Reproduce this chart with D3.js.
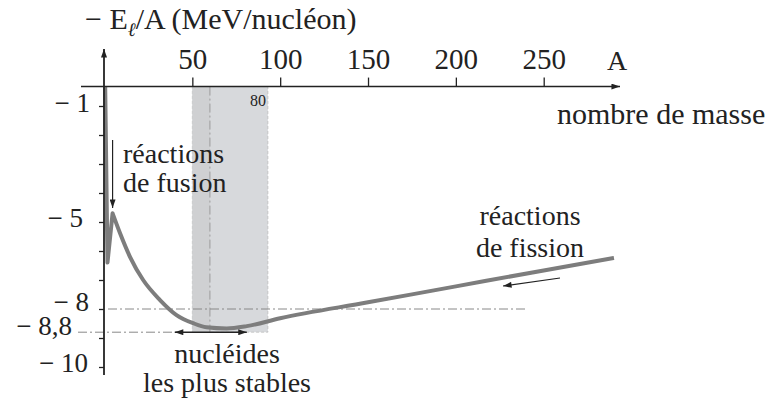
<!DOCTYPE html>
<html>
<head>
<meta charset="utf-8">
<script src="https://cdn.jsdelivr.net/npm/d3@7"></script>
<style>
body { margin: 0; background: #fff; }
svg { display: block; font-family: "Liberation Serif", "Times New Roman", serif; fill: #222; }
</style>
</head>
<body>
<svg id="chart" width="766" height="409"></svg>
<script>
// mass number A and -E/A (MeV / nucleon)
const massNumber = [0.4, 1.7, 4.6, 8.8, 14.5, 22, 31.6, 41, 50.5, 58, 69.5, 81, 100, 150, 200, 250, 290]
const bindingPerNucleon = [-0.35, -6.4, -4.7, -5.38, -6.2, -7.0, -7.69, -8.21, -8.49, -8.63, -8.67, -8.59, -8.32, -7.77, -7.22, -6.67, -6.24]

const xTicks = [50, 100, 150, 200, 250]
const yTicks = [-1, -2, -3, -4, -5, -6, -7, -8, -9, -10]
const yLabelValues = [-1, -5, -8, -8.8, -10]
const yLabels = ['− 1', '− 5', '− 8', '− 8,8', '− 10']

const stableBand = [50, 93]      // shaded zone (A)
const mostStableA = 60
const refLevels = [-8, -8.8]
const stableArrow = [40, 81]

const serif = '"Liberation Serif", "Times New Roman", serif'
const svg = d3.select('#chart')

const x = d3.scaleLinear().domain([0, 250]).range([104.5, 543.7])
const y = d3.scaleLinear().domain([-1, -10]).range([106, 367])
const axisY = y(-0.33)

const defs = svg.append('defs')
defs.append('marker')
	.attr('id', 'head')
	.attr('viewBox', '0 0 10 7')
	.attr('refX', 10).attr('refY', 3.5)
	.attr('markerWidth', 10).attr('markerHeight', 6)
	.attr('markerUnits', 'userSpaceOnUse')
	.attr('orient', 'auto-start-reverse')
	.append('path').attr('d', 'M0,0 L10,3.5 L0,7 Z').attr('fill', '#222')

function label(str, px, py, size, anchor) {
	return svg.append('text')
		.attr('x', px).attr('y', py)
		.attr('text-anchor', anchor || 'start')
		.style('font-size', size + 'px')
		.text(str)
}

// shaded band of the most stable nuclei
const bandBottom = y(-8.8)
svg.append('rect')
	.attr('x', x(stableBand[0]))
	.attr('y', axisY)
	.attr('width', x(stableBand[1]) - x(stableBand[0]))
	.attr('height', bandBottom - axisY)
	.attr('fill', '#d7d9dc')
	.attr('stroke', '#b8b8b8')
	.attr('stroke-width', 0.7)
	.attr('stroke-dasharray', '3,2')
svg.append('rect')
	.attr('x', x(stableBand[0]))
	.attr('y', axisY)
	.attr('width', x(mostStableA) - x(stableBand[0]))
	.attr('height', bandBottom - axisY)
	.attr('fill', '#cfd0d2')

svg.append('line')
	.attr('x1', x(mostStableA)).attr('x2', x(mostStableA))
	.attr('y1', axisY).attr('y2', bandBottom)
	.attr('stroke', '#9c9c9c').attr('stroke-width', 1)
	.attr('stroke-dasharray', '9,3,2,3')

// reference levels
svg.append('line')
	.attr('x1', 108).attr('x2', 528)
	.attr('y1', y(refLevels[0])).attr('y2', y(refLevels[0]))
	.attr('stroke', '#888').attr('stroke-width', 1)
	.attr('stroke-dasharray', '9,3,2,3')
svg.append('line')
	.attr('x1', 78).attr('x2', 182)
	.attr('y1', y(refLevels[1])).attr('y2', y(refLevels[1]))
	.attr('stroke', '#888').attr('stroke-width', 1)
	.attr('stroke-dasharray', '9,3,2,3')

// curve: sharp light-nuclei spike, then smooth
const pts = massNumber.map((a, i) => [a, bindingPerNucleon[i]])
const spike = d3.line().x(d => x(d[0])).y(d => y(d[1]))
const smooth = d3.line().x(d => x(d[0])).y(d => y(d[1])).curve(d3.curveMonotoneX)
svg.append('path')
	.attr('d', spike(pts.slice(0, 3)) + smooth(pts.slice(2)).replace(/^M/, 'L'))
	.attr('fill', 'none')
	.attr('stroke', '#7d7d7d')
	.attr('stroke-width', 4)
	.attr('stroke-linejoin', 'round')

// axes
const gx = svg.append('g')
	.attr('transform', `translate(0,${axisY})`)
	.call(d3.axisTop(x).tickValues(xTicks).tickSize(9).tickPadding(9).tickSizeOuter(0))
gx.attr('font-family', serif).attr('font-size', 29)
gx.select('.domain').remove()
gx.selectAll('line').attr('stroke', '#222').attr('stroke-width', 1.3)
gx.selectAll('text').attr('fill', '#222')

const gy = svg.append('g')
	.attr('transform', 'translate(104,0)')
	.call(d3.axisLeft(y).tickValues(yTicks).tickSize(5).tickFormat('').tickSizeOuter(0))
gy.select('.domain').remove()
gy.selectAll('line').attr('stroke', '#222').attr('stroke-width', 1.3)

svg.append('line')
	.attr('x1', 81).attr('x2', 620)
	.attr('y1', axisY).attr('y2', axisY)
	.attr('stroke', '#222').attr('stroke-width', 1.4)
	.attr('marker-end', 'url(#head)')
svg.append('line')
	.attr('x1', 104).attr('x2', 104)
	.attr('y1', 375).attr('y2', 49)
	.attr('stroke', '#222').attr('stroke-width', 1.8)
	.attr('marker-end', 'url(#head)')

// y labels
const labelRight = [90, 83, 89, 72, 88]
const labelDy = [6, 5, 2, 3, 5]
yLabelValues.forEach((v, i) => label(yLabels[i], labelRight[i], y(v) + labelDy[i], 27, 'end'))

// titles
const title = svg.append('text')
	.attr('x', 85).attr('y', 29)
	.style('font-size', '30px')
title.append('tspan').text('− E')
title.append('tspan').attr('dy', 7).style('font-size', '19px').style('font-style', 'italic').text('ℓ')
title.append('tspan').attr('dy', -7).text('/A (MeV/nucléon)')

label('A', 617, 70, 28, 'middle')
label('nombre de masse', 557, 124, 30)
label('80', 266, 106, 16, 'end')

// annotations
label('réactions', 123, 163, 28)
label('de fusion', 123, 192, 28)
svg.append('line')
	.attr('x1', x(4.6)).attr('x2', x(4.6))
	.attr('y1', 140).attr('y2', 208)
	.attr('stroke', '#222').attr('stroke-width', 1.2)
	.attr('marker-end', 'url(#head)')

label('réactions', 530, 225, 28, 'middle')
label('de fission', 530, 257, 28, 'middle')
svg.append('line')
	.attr('x1', 560).attr('x2', 503)
	.attr('y1', 278).attr('y2', 286)
	.attr('stroke', '#222').attr('stroke-width', 1.2)
	.attr('marker-end', 'url(#head)')

svg.append('line')
	.attr('x1', x(stableArrow[0])).attr('x2', x(stableArrow[1]))
	.attr('y1', y(-8.8)).attr('y2', y(-8.8))
	.attr('stroke', '#222').attr('stroke-width', 1.4)
	.attr('marker-start', 'url(#head)')
	.attr('marker-end', 'url(#head)')
label('nucléides', 227, 363, 28, 'middle')
label('les plus stables', 227, 392, 28, 'middle')
</script>
</body>
</html>
